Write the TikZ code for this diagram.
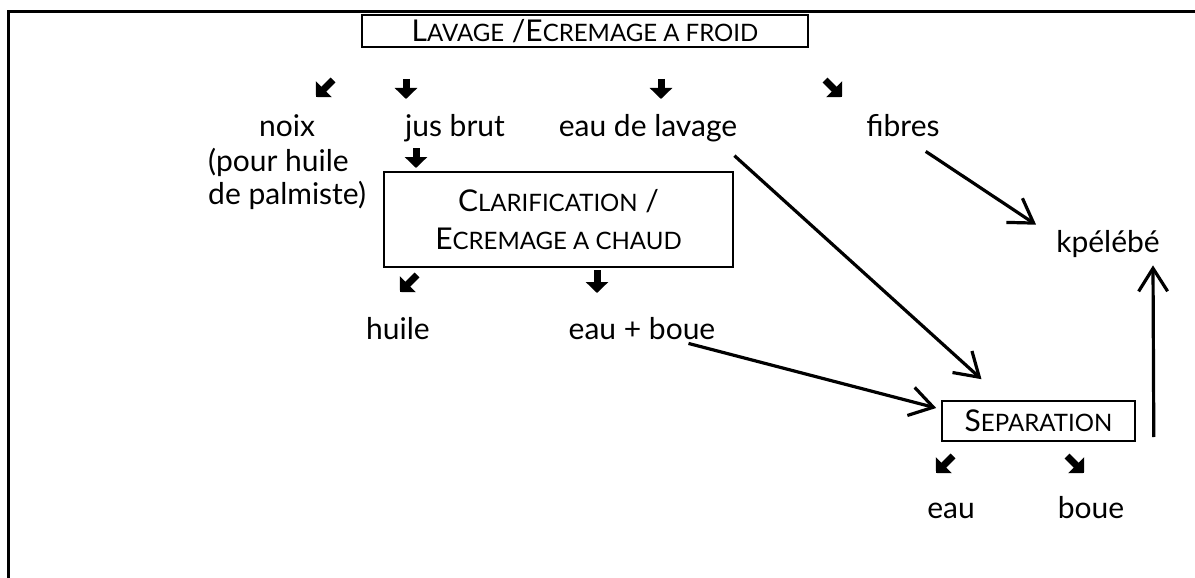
\documentclass[tikz,border=0pt]{standalone}
\usepackage{fontspec}
\setmainfont{Lato}
\usetikzlibrary{arrows.meta}
\newcommand{\petit}[1]{{\fontsize{24}{28}\selectfont #1}}
\tikzset{
  lbl/.style={inner sep=0pt, font=\fontsize{30}{33}\selectfont},
  boite/.style={draw, line width=1.6pt, inner sep=0pt, align=center, font=\fontsize{30}{38}\selectfont},
  flow/.style={line width=3.2pt, -{Straight Barb[length=23pt,width=29pt]}},
  stub/.style={line width=7pt, -{Triangle[length=11pt,width=22pt]}},
}
\begin{document}
\begin{tikzpicture}[x=1pt,y=-1pt]
    \useasboundingbox (0,0) rectangle (1195,578);
    % cadre
    \draw[line width=3pt] (8,578) -- (8,12) -- (1195,12);

    % Lavage / ecremage a froid
    \node[boite, minimum width=446pt, minimum height=32pt] (froid) at (585,31)
        {L\petit{AVAGE} /E\petit{CREMAGE A FROID}};
    \draw[stub] (333,80) -- (316,97);
    \draw[stub] (406,79) -- (406,99);
    \draw[stub] (661,79) -- (661,99);
    \draw[stub] (825,80) -- (842,97);

    \node[lbl, anchor=base] (noix) at (287,136) {noix};
    \node[lbl, anchor=north west, align=left] (palm) at (208,148) {(pour huile\\de palmiste)};
    \node[lbl, anchor=base] (jus) at (455,136) {jus brut};
    \node[lbl, anchor=base] (lavage) at (648,136) {eau de lavage};
    \node[lbl, anchor=base] (fibres) at (903,136) {fibres};

    % Clarification / ecremage a chaud
    \draw[stub] (416,148) -- (416,168);
    \node[boite, minimum width=349pt, minimum height=95pt] (clarif) at (558.5,219.5)
        {C\petit{LARIFICATION} /\\E\petit{CREMAGE A CHAUD}};
    \draw[stub] (417,275) -- (400,292);
    \draw[stub] (597,270) -- (597,293);

    \node[lbl, anchor=base] (huile) at (398,339) {huile};
    \node[lbl, anchor=base] (eauboue) at (642,339) {eau + boue};
    \node[lbl, anchor=base] (kpelebe) at (1108,252) {kpélébé};

    % Separation
    \node[boite, minimum width=193pt, minimum height=40pt] (sep) at (1038.5,421)
        {S\petit{EPARATION}};
    \draw[stub] (953,456) -- (936,473);
    \draw[stub] (1067,456) -- (1084,473);
    \node[lbl, anchor=base] (eau) at (951,518) {eau};
    \node[lbl, anchor=base] (boue) at (1091,518) {boue};

    % fleches
    \draw[flow] ([shift={(-3,14)}]lavage.south east) -- ([shift={(-57,-21)}]sep.north);
    \draw[flow] ([shift={(-14,15)}]fibres.south east) -- ([shift={(-20,-5)}]kpelebe.north west);
    \draw[flow] ([shift={(-27,4)}]eauboue.south east) -- ([shift={(-5,-13)}]sep.west);
    \draw[flow] ([shift={(18,16)}]sep.east) -- ([shift={(45,8)}]kpelebe.south);
\end{tikzpicture}
\end{document}
